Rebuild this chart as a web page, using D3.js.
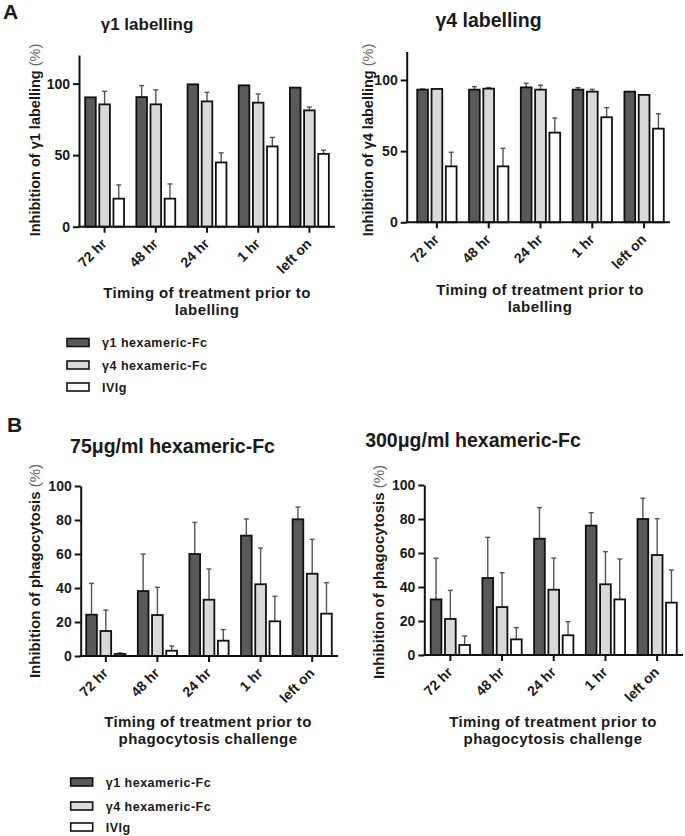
<!DOCTYPE html>
<html>
<head>
<meta charset="utf-8">
<script src="https://cdn.jsdelivr.net/npm/d3@7"></script>
<style>
    body { margin: 0; background: #fff; }
    svg text { font-family: "Liberation Sans", Arial, sans-serif; font-weight: bold; fill: #1a1a1a; }
</style>
</head>
<body>
<svg id="fig" width="685" height="836"></svg>
<script>

var timings = ['72 hr', '48 hr', '24 hr', '1 hr', 'left on'];
var seriesNames = ['γ1 hexameric-Fc', 'γ4 hexameric-Fc', 'IVIg'];

// A: γ1 labelling (mean, error)
var g1Lab_g1 = [90.4, 90.6, 99.5, 98.8, 97.2];
var g1Lab_g1Err = [0, 8.0, 0, 0, 0];
var g1Lab_g4 = [85.5, 85.5, 87.6, 86.7, 81.3];
var g1Lab_g4Err = [9.1, 10.1, 6.3, 6.1, 2.3];
var g1Lab_ivig = [19.6, 19.6, 44.9, 56.1, 50.9];
var g1Lab_ivigErr = [9.6, 10.3, 6.7, 6.3, 2.6];

// A: γ4 labelling
var g4Lab_g1 = [93.2, 93.2, 94.8, 93.2, 91.8];
var g4Lab_g1Err = [0.5, 2.1, 2.9, 1.4, 0];
var g4Lab_g4 = [93.7, 93.9, 93.2, 91.8, 89.5];
var g4Lab_g4Err = [0, 0.7, 3.1, 1.6, 0];
var g4Lab_ivig = [39.3, 39.3, 63.0, 73.8, 65.8];
var g4Lab_ivigErr = [9.9, 12.7, 10.3, 6.8, 10.5];

// B: 75µg/ml phagocytosis
var p75_g1 = [24.3, 38.2, 60.0, 70.8, 80.4];
var p75_g1Err = [18.4, 21.8, 18.6, 9.8, 7.2];
var p75_g4 = [14.7, 24.1, 33.1, 42.2, 48.4];
var p75_g4Err = [12.3, 16.3, 18.1, 21.3, 20.2];
var p75_ivig = [1.2, 3.1, 9.0, 20.4, 24.9];
var p75_ivigErr = [0.6, 2.8, 6.5, 14.7, 18.2];

// B: 300µg/ml phagocytosis
var p300_g1 = [32.7, 45.3, 68.4, 76.1, 80.0];
var p300_g1Err = [24.2, 23.9, 18.3, 7.6, 12.2];
var p300_g4 = [21.2, 28.2, 38.4, 41.6, 58.8];
var p300_g4Err = [16.8, 20.2, 18.6, 19.2, 21.4];
var p300_ivig = [5.9, 9.2, 11.6, 32.7, 30.8];
var p300_ivigErr = [5.3, 6.9, 8.0, 23.8, 19.2];

var labTicks = [0, 50, 100];
var phagoTicks = [0, 20, 40, 60, 80, 100];

var fills = ['#595959', '#d9d9d9', '#ffffff'];

var svg = d3.select('#fig');

function drawPanel(cfg) {

    var y = d3.scaleLinear().domain([0, cfg.max]).range([cfg.yZero, cfg.yTop]);
    var x0 = d3.scaleBand().domain(timings)
        .range([cfg.bandStart, cfg.xEnd])
        .paddingInner(0.24).paddingOuter(0.12);
    var x1 = d3.scaleBand().domain(d3.range(seriesNames.length))
        .range([0, x0.bandwidth()])
        .paddingInner(0.25);

    var g = svg.append('g');

    var cells = [];
    timings.forEach(function(t, i) {
        for (var s = 0; s < seriesNames.length; s++) {
            cells.push({t: t, s: s, v: cfg.means[s][i], e: cfg.errs[s][i]});
        }
    });

    // error bars (upward only)
    var eb = g.selectAll('.err')
        .data(cells.filter(function(d) { return d.e > 0; }))
        .enter().append('g')
        .attr('class', 'err')
        .attr('stroke', '#555')
        .attr('stroke-width', 1.4);
    eb.append('line')
        .attr('x1', function(d) { return x0(d.t) + x1(d.s) + x1.bandwidth() / 2; })
        .attr('x2', function(d) { return x0(d.t) + x1(d.s) + x1.bandwidth() / 2; })
        .attr('y1', function(d) { return y(d.v); })
        .attr('y2', function(d) { return y(d.v + d.e); });
    eb.append('line')
        .attr('x1', function(d) { return x0(d.t) + x1(d.s) + x1.bandwidth() / 2 - 2.5; })
        .attr('x2', function(d) { return x0(d.t) + x1(d.s) + x1.bandwidth() / 2 + 2.5; })
        .attr('y1', function(d) { return y(d.v + d.e); })
        .attr('y2', function(d) { return y(d.v + d.e); });

    g.selectAll('.bar')
        .data(cells)
        .enter().append('rect')
        .attr('class', 'bar')
        .attr('x', function(d) { return x0(d.t) + x1(d.s); })
        .attr('y', function(d) { return y(d.v); })
        .attr('width', x1.bandwidth())
        .attr('height', function(d) { return y(0) - y(d.v); })
        .attr('fill', function(d) { return fills[d.s]; })
        .attr('stroke', '#111')
        .attr('stroke-width', 1.8);

    // y axis
    var ya = g.append('g')
        .attr('transform', 'translate(' + cfg.axisX + ',0)')
        .call(d3.axisLeft(y).tickValues(cfg.ticks).tickSize(6).tickPadding(3).tickSizeOuter(0));
    ya.selectAll('path, line').attr('stroke', '#111').attr('stroke-width', 2);
    ya.selectAll('text').attr('font-size', 14).attr('fill', '#1a1a1a');

    // x axis
    g.append('line')
        .attr('x1', cfg.axisX - 1).attr('x2', cfg.xEnd)
        .attr('y1', cfg.yZero).attr('y2', cfg.yZero)
        .attr('stroke', '#111').attr('stroke-width', 2);

    var xt = g.selectAll('.xtick')
        .data(timings)
        .enter().append('g')
        .attr('class', 'xtick')
        .attr('transform', function(t) {
            return 'translate(' + (x0(t) + x0.bandwidth() / 2) + ',' + cfg.yZero + ')';
        });
    xt.append('line').attr('y2', 6).attr('stroke', '#111').attr('stroke-width', 2);
    xt.append('text')
        .attr('text-anchor', 'end')
        .attr('font-size', 14)
        .attr('transform', 'translate(3,18) rotate(-45)')
        .text(function(t) { return t; });

    // titles
    g.append('text')
        .attr('x', cfg.titleX).attr('y', cfg.titleY)
        .attr('text-anchor', 'middle')
        .attr('font-size', cfg.titleSize)
        .text(cfg.title);

    var yl = g.append('text')
        .attr('text-anchor', 'middle')
        .attr('font-size', cfg.ylabelSize)
        .attr('transform', 'translate(' + cfg.ylabelX + ',' + cfg.ylabelY + ') rotate(-90)');
    yl.append('tspan').text(cfg.ylabel + ' ');
    yl.append('tspan').attr('font-weight', 'normal').style('fill', '#666').text('(%)');

    g.selectAll('.xtitle')
        .data(cfg.xtitle)
        .enter().append('text')
        .attr('class', 'xtitle')
        .attr('x', cfg.xtitleX)
        .attr('y', function(d, i) { return cfg.xtitleY + i * 17; })
        .attr('text-anchor', 'middle')
        .attr('font-size', 15)
        .attr('letter-spacing', 0.4)
        .text(function(d) { return d; });
}

function drawLegend(x, ys) {
    var lg = svg.append('g').selectAll('.leg')
        .data(seriesNames)
        .enter().append('g')
        .attr('transform', function(d, i) { return 'translate(' + x + ',' + ys[i] + ')'; });
    lg.append('rect')
        .attr('x', 0).attr('y', -4)
        .attr('width', 22).attr('height', 8)
        .attr('fill', function(d, i) { return fills[i]; })
        .attr('stroke', '#111').attr('stroke-width', 1.6);
    lg.append('text')
        .attr('x', 35).attr('y', 4.5)
        .attr('font-size', 12.5)
        .attr('letter-spacing', 0.5)
        .text(function(d) { return d; });
}

svg.append('text').attr('x', 3).attr('y', 19).attr('font-size', 21).text('A');
svg.append('text').attr('x', 7).attr('y', 432).attr('font-size', 21).text('B');

drawPanel({
    axisX: 79, bandStart: 79, xEnd: 335, yTop: 55, yZero: 226.7, max: 120, ticks: labTicks,
    title: 'γ1 labelling', titleX: 147, titleY: 30, titleSize: 17,
    ylabel: 'Inhibition of γ1 labelling', ylabelX: 40, ylabelY: 140, ylabelSize: 14.5,
    xtitle: ['Timing of treatment prior to', 'labelling'], xtitleX: 207, xtitleY: 298,
    means: [g1Lab_g1, g1Lab_g4, g1Lab_ivig], errs: [g1Lab_g1Err, g1Lab_g4Err, g1Lab_ivigErr]
});

drawPanel({
    axisX: 406.7, bandStart: 411, xEnd: 670, yTop: 51.5, yZero: 222.3, max: 120, ticks: labTicks,
    title: 'γ4 labelling', titleX: 488.5, titleY: 27, titleSize: 19.5,
    ylabel: 'Inhibition of γ4 labelling', ylabelX: 373, ylabelY: 140, ylabelSize: 14.5,
    xtitle: ['Timing of treatment prior to', 'labelling'], xtitleX: 540, xtitleY: 295,
    means: [g4Lab_g1, g4Lab_g4, g4Lab_ivig], errs: [g4Lab_g1Err, g4Lab_g4Err, g4Lab_ivigErr]
});

drawPanel({
    axisX: 80.7, bandStart: 80, xEnd: 338, yTop: 486, yZero: 656, max: 100, ticks: phagoTicks,
    title: '75μg/ml hexameric-Fc', titleX: 172.5, titleY: 453, titleSize: 19.5,
    ylabel: 'Inhibition of phagocytosis', ylabelX: 40, ylabelY: 571, ylabelSize: 15,
    xtitle: ['Timing of treatment prior to', 'phagocytosis challenge'], xtitleX: 208, xtitleY: 727,
    means: [p75_g1, p75_g4, p75_ivig], errs: [p75_g1Err, p75_g4Err, p75_ivigErr]
});

drawPanel({
    axisX: 424.3, bandStart: 424.5, xEnd: 683, yTop: 485, yZero: 655, max: 100, ticks: phagoTicks,
    title: '300μg/ml hexameric-Fc', titleX: 473, titleY: 447, titleSize: 19.5,
    ylabel: 'Inhibition of phagocytosis', ylabelX: 384, ylabelY: 572, ylabelSize: 15,
    xtitle: ['Timing of treatment prior to', 'phagocytosis challenge'], xtitleX: 553, xtitleY: 727,
    means: [p300_g1, p300_g4, p300_ivig], errs: [p300_g1Err, p300_g4Err, p300_ivigErr]
});

drawLegend(67, [342.5, 365, 387]);
drawLegend(70.7, [782, 806, 827]);

</script>
</body>
</html>
